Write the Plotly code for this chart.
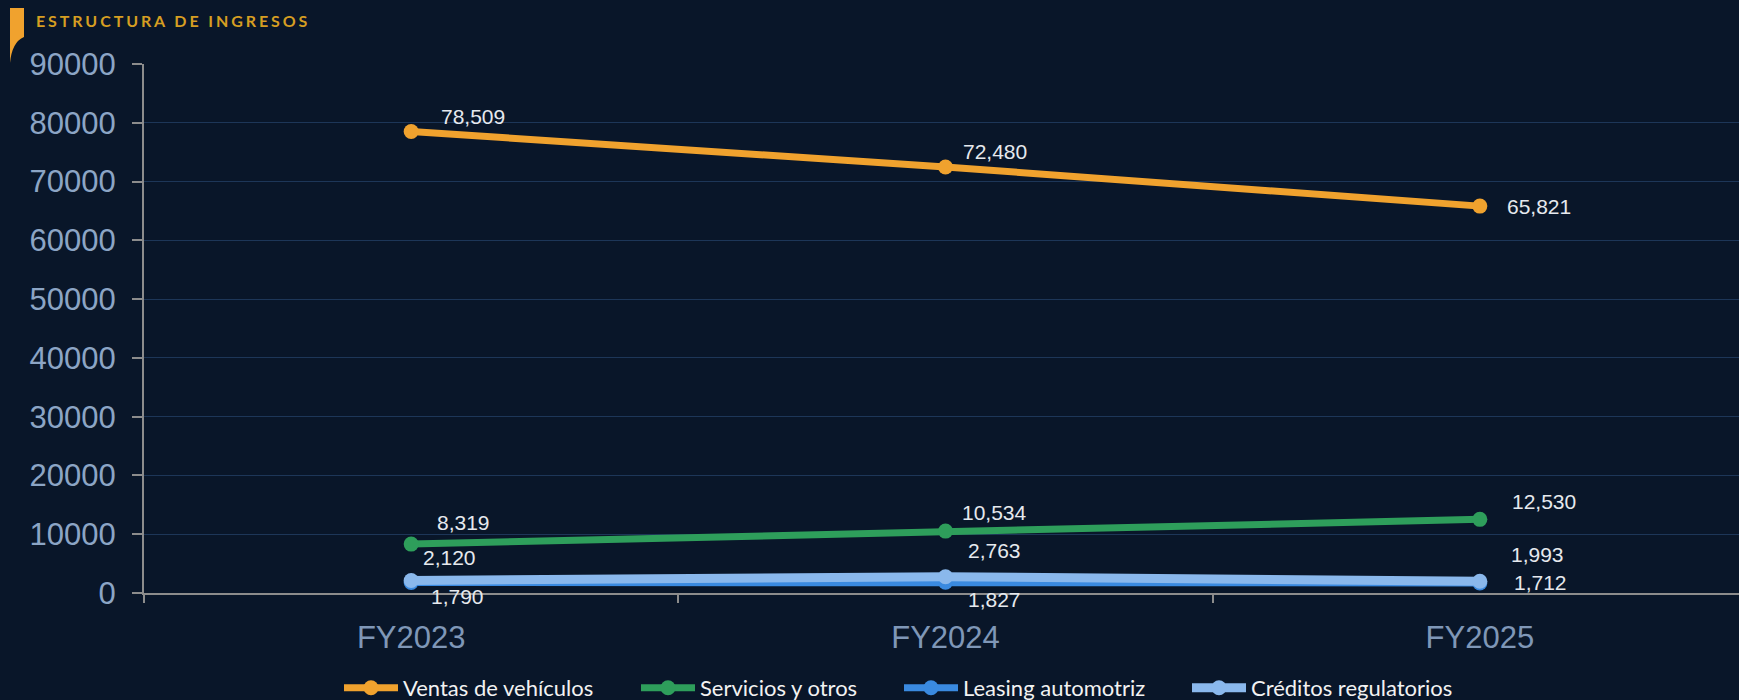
import plotly.graph_objects as go

years = ["FY2023", "FY2024", "FY2025"]

ventas = [78509, 72480, 65821]
servicios = [8319, 10534, 12530]
leasing = [1790, 1827, 1712]
creditos = [2120, 2763, 1993]

series_names = ["Ventas de vehículos", "Servicios y otros", "Leasing automotriz", "Créditos regulatorios"]
series_values = [ventas, servicios, leasing, creditos]
colors = ["#F0A22E", "#2E9E5B", "#3A8AE0", "#8AB8EC"]
widths = [7, 7, 7, 9]

# label offsets (px) for each point, right / up
label_shifts = [
    [(62, 15), (49, 15), (59, 0)],
    [(52, 22), (49, 19), (64, 18)],
    [(46, -14), (49, -17), (61, 0)],
    [(38, 23), (49, 26), (58, 27)],
]

# legend start positions (pixel x of symbol)
legend_px = [344, 641, 904, 1192]

bg = "#091629"
L, T, B = 144, 64, 107
W, H = 1739, 700
plot_w = W - L
plot_h = H - T - B

fig = go.Figure()

for i, (name, vals, col) in enumerate(zip(series_names, series_values, colors)):
    leg = "legend" if i == 0 else f"legend{i + 1}"
    fig.add_trace(go.Scatter(x=years, y=vals, name=name, mode="lines+markers",
                             line=dict(color=col, width=widths[i]),
                             marker=dict(color=col, size=15),
                             legend=leg))
    for x, v, (dx, dy) in zip(years, vals, label_shifts[i]):
        fig.add_annotation(x=x, y=v, text=f"{v:,}", showarrow=False,
                           xshift=dx, yshift=dy, xanchor="center", yanchor="middle",
                           font=dict(family="Liberation Sans, Arial", size=21, color="#E6E9EE"))

legends = {}
for i, px in enumerate(legend_px):
    key = "legend" if i == 0 else f"legend{i + 1}"
    legends[key] = dict(x=(px - 5 - L) / plot_w, y=-(688 - (H - B)) / plot_h, xanchor="left", yanchor="middle",
                        orientation="h", itemwidth=54, bgcolor="rgba(0,0,0,0)",
                        font=dict(family="Lato, Noto Sans", size=22, color="#F2F2F2"))

fig.add_annotation(
    xref="paper", yref="paper", x=(34 - L) / plot_w, y=1 + (T - 20) / plot_h,
    xanchor="left", yanchor="middle", showarrow=False,
    text="<b><span style='letter-spacing:2.9px'>ESTRUCTURA DE INGRESOS</span></b>",
    font=dict(family="Lato, Noto Sans", size=16, color="#D69E22"))

# orange tab at top-left
fig.add_shape(type="path", xref="paper", yref="paper", xsizemode="pixel", ysizemode="pixel",
              xanchor=0, yanchor=1,
              path="M -134,56 L -120,56 L -120,27 Q -132,22 -134,1 Z",
              fillcolor="#F0A22E", line=dict(width=0))

fig.update_layout(
    width=W, height=H,
    paper_bgcolor=bg, plot_bgcolor=bg,
    margin=dict(l=L, r=0, t=T, b=B, autoexpand=False),
    showlegend=True,
    **legends,
)

fig.update_xaxes(type="category", range=[-0.5, 2.485], showgrid=False,
                 showline=True, linecolor="#8C8C8C", linewidth=2,
                 ticks="outside", tickson="boundaries", ticklen=8, tickcolor="#8C8C8C", tickwidth=2,
                 ticklabelstandoff=16,
                 tickfont=dict(family="Liberation Sans, Arial", size=31, color="#7F97B7"))

fig.update_yaxes(range=[0, 90000], dtick=10000, showgrid=True, gridcolor="#1D3658", gridwidth=1,
                 zeroline=False, showline=True, linecolor="#8C8C8C", linewidth=2,
                 ticks="outside", ticklen=10, tickcolor="#8C8C8C", tickwidth=2,
                 tickformat="d", ticklabelstandoff=10,
                 tickfont=dict(family="Liberation Sans, Arial", size=31, color="#8CA5C5"))

fig.write_html("out.html", config={"displayModeBar": False},
               post_script="document.body.style.margin='0';")
